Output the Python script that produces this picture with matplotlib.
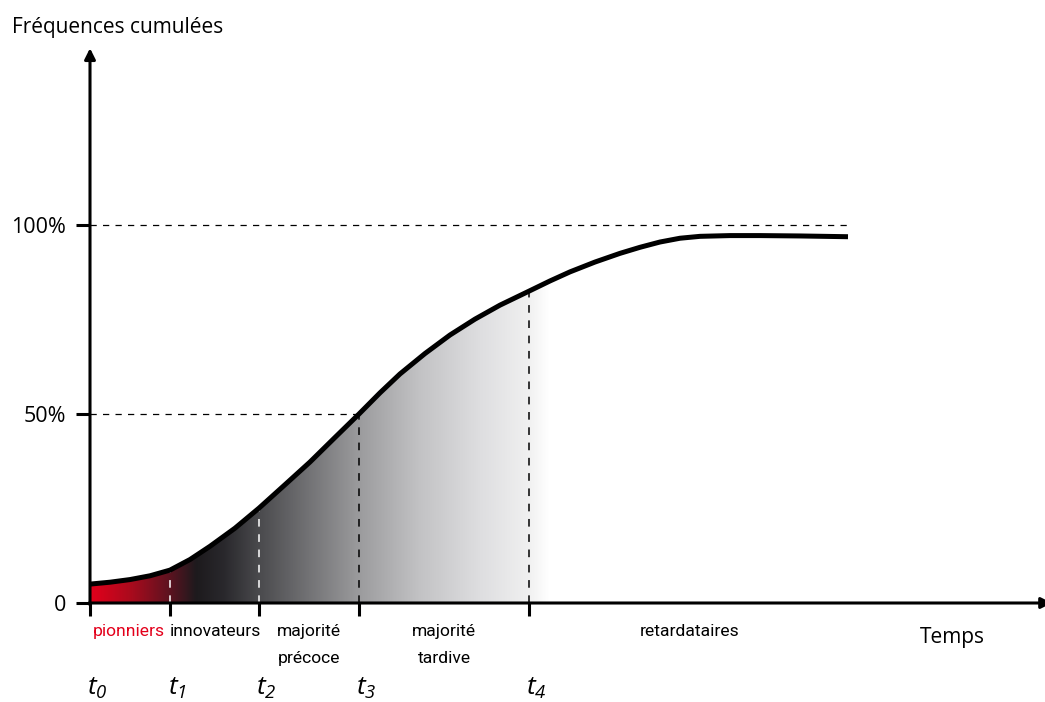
import matplotlib.pyplot as plt
import numpy as np
from matplotlib.colors import LinearSegmentedColormap
from matplotlib.patches import PathPatch

plt.rcParams['font.family'] = ['Open Sans', 'DejaVu Sans']
plt.rcParams['mathtext.fontset'] = 'custom'
plt.rcParams['mathtext.it'] = 'Open Sans:italic'
plt.rcParams['mathtext.rm'] = 'Open Sans:italic'

# time (arbitrary units) and cumulative frequency (%)
temps = [0, 20, 40, 60, 80, 100, 120, 145, 169, 195, 220, 245, 269, 290, 310,
         335, 360, 385, 410, 439, 460, 480, 505, 530, 550, 570, 590, 610,
         640, 670, 710, 758]
freq = [5.0, 5.5, 6.2, 7.2, 8.7, 11.5, 15.0, 19.8, 25.1, 31.3, 37.3, 43.8,
        50.0, 55.6, 60.6, 66.0, 70.9, 75.1, 78.8, 82.5, 85.2, 87.6, 90.2,
        92.5, 94.1, 95.5, 96.5, 97.0, 97.2, 97.2, 97.1, 96.9]

t_pos = [0, 80, 169, 269, 439]
t_noms = ['0', '1', '2', '3', '4']

categories = ['pionniers', 'innovateurs', 'majorité\nprécoce',
              'majorité\ntardive', 'retardataires']
cat_x = [39, 125, 219, 354, 600]
cat_couleurs = ['#e3001b', 'black', 'black', 'black', 'black']

fig = plt.figure(figsize=(10.45, 7.02), dpi=100)
ax = fig.add_axes([90 / 1045, 99 / 702, 955 / 1045, 551 / 702])
ax.set_xlim(0, 955)
ax.set_ylim(0, 551 / 3.78)
for s in ax.spines.values():
    s.set_visible(False)

# gradient under the curve
grad = LinearSegmentedColormap.from_list('diff', [
    (0.00, '#e3001b'), (0.09, '#a80b1d'), (0.174, '#5a1320'),
    (0.23, '#1d1a1d'), (0.29, '#29282c'), (0.367, '#4a4a4d'),
    (0.585, '#9b9b9d'), (0.72, '#c3c3c5'), (0.85, '#dedee0'),
    (0.955, '#f0f0f0'), (1.0, '#ffffff')])
xf = np.array([x for x in temps if x <= 460])
yf = np.array(freq[:len(xf)])
poly = ax.fill_between(xf, yf, 0, facecolor='none', edgecolor='none')
patch = PathPatch(poly.get_paths()[0], transform=ax.transData,
                  facecolor='none', edgecolor='none')
ax.add_patch(patch)
im = ax.imshow(np.linspace(0, 1, 256)[None, :], cmap=grad, aspect='auto',
               extent=[0, 460, 0, 100], origin='lower', zorder=1)
im.set_clip_path(patch)

# reference lines
ax.plot([0, 758], [100, 100], ls=(0, (5, 5)), color='black', lw=0.9, zorder=2)
ax.plot([0, t_pos[3]], [50, 50], ls=(0, (5, 5)), color='black', lw=0.9, zorder=2)
for i, t in enumerate(t_pos[1:], start=1):
    top = 50 if i == 3 else np.interp(t, temps, freq)
    col = 'white' if i < 3 else 'black'
    ax.plot([t, t], [0, top], ls=(0, (5, 5)), color=col, lw=1.1, zorder=2)

ax.plot(temps, freq, color='black', lw=3.6, solid_capstyle='butt',
        solid_joinstyle='round', zorder=3)

# axes with arrows
ax.annotate('', xy=(962, 0), xytext=(-1, 0), xycoords='data',
            arrowprops=dict(arrowstyle='-|>', lw=2.2, color='black',
                            mutation_scale=16, shrinkA=0, shrinkB=0),
            annotation_clip=False, zorder=4)
ax.annotate('', xy=(0, 551 / 3.78 + 1), xytext=(0, -0.5), xycoords='data',
            arrowprops=dict(arrowstyle='-|>', lw=2.2, color='black',
                            mutation_scale=16, shrinkA=0, shrinkB=0),
            annotation_clip=False, zorder=4)

ax.set_yticks([0, 50, 100], ['0', '50%', '100%'])
ax.set_xticks(t_pos, [''] * len(t_pos))
ax.tick_params(axis='y', length=10, width=2.2, pad=7, labelsize=15.5)
ax.tick_params(axis='x', length=9, width=2.2)

for nom, x, c in zip(categories, cat_x, cat_couleurs):
    ax.text(x, -5.6, nom, ha='center', va='top', fontsize=12.6, color=c,
            family=['Roboto', 'DejaVu Sans'], linespacing=1.95)

for t, n in zip(t_pos, t_noms):
    ax.text(t + 7, -22.5, r'$t_{%s}$' % n, ha='center', va='center',
            fontsize=19)

ax.text(862, -9.2, 'Temps', ha='center', va='center', fontsize=15)
fig.text(12 / 1045, 1 - 27 / 702, 'Fréquences cumulées', ha='left',
         va='center', fontsize=15)

fig.savefig('out.png', dpi=100)
